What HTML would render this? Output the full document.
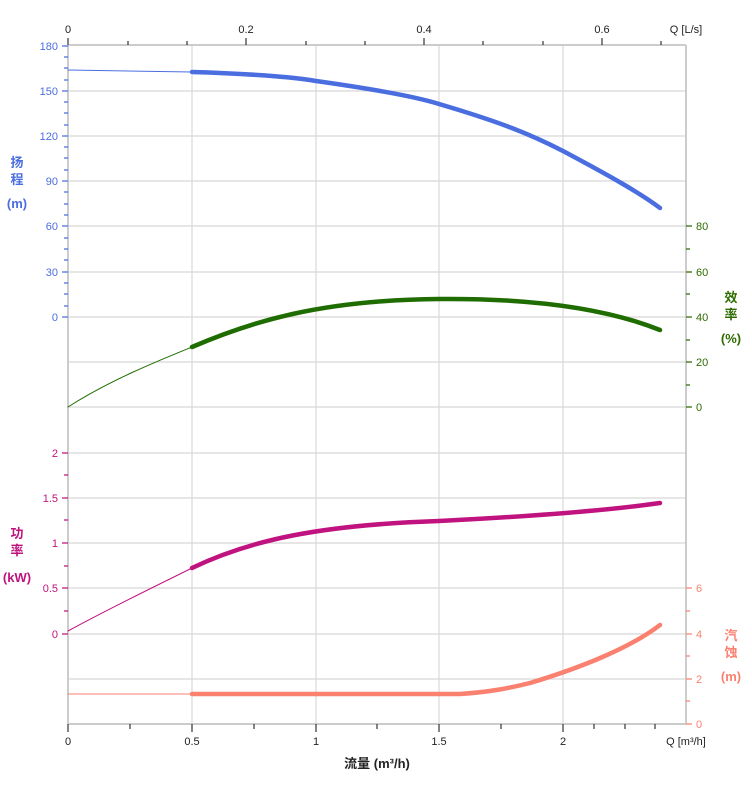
<!DOCTYPE html>
<html><head><meta charset="utf-8"><style>body{margin:0;background:#fff}svg{display:block}text{font-family:"Liberation Sans","Noto Sans CJK SC",sans-serif}</style></head><body>
<svg width="752" height="797" viewBox="0 0 752 797" xmlns="http://www.w3.org/2000/svg">
<g stroke="#d8d8d8" stroke-width="1.2">
<line x1="68" y1="91" x2="686" y2="91"/><line x1="68" y1="136" x2="686" y2="136"/><line x1="68" y1="181" x2="686" y2="181"/><line x1="68" y1="226" x2="686" y2="226"/><line x1="68" y1="272" x2="686" y2="272"/><line x1="68" y1="317" x2="686" y2="317"/><line x1="68" y1="362" x2="686" y2="362"/><line x1="68" y1="407" x2="686" y2="407"/><line x1="68" y1="453" x2="686" y2="453"/><line x1="68" y1="498" x2="686" y2="498"/><line x1="68" y1="543" x2="686" y2="543"/><line x1="68" y1="588" x2="686" y2="588"/><line x1="68" y1="634" x2="686" y2="634"/><line x1="68" y1="679" x2="686" y2="679"/>
<line x1="192" y1="46" x2="192" y2="724"/><line x1="316" y1="46" x2="316" y2="724"/><line x1="439" y1="46" x2="439" y2="724"/><line x1="563" y1="46" x2="563" y2="724"/>
</g>
<g stroke="#ccc" stroke-width="2"><line x1="68" y1="45" x2="686" y2="45"/><line x1="68" y1="724" x2="686" y2="724"/><line x1="686" y1="45" x2="686" y2="724"/><line x1="68" y1="45" x2="68" y2="724"/></g>
<g stroke="#333" stroke-width="1.2">
<line x1="68" y1="724" x2="68" y2="732"/><line x1="130" y1="724" x2="130" y2="729"/><line x1="192" y1="724" x2="192" y2="732"/><line x1="254" y1="724" x2="254" y2="729"/><line x1="316" y1="724" x2="316" y2="732"/><line x1="377" y1="724" x2="377" y2="729"/><line x1="439" y1="724" x2="439" y2="732"/><line x1="501" y1="724" x2="501" y2="729"/><line x1="563" y1="724" x2="563" y2="732"/><line x1="594" y1="724" x2="594" y2="729"/><line x1="625" y1="724" x2="625" y2="729"/><line x1="655" y1="724" x2="655" y2="729"/>
<line x1="68" y1="38" x2="68" y2="45"/><line x1="128" y1="41" x2="128" y2="45"/><line x1="187" y1="41" x2="187" y2="45"/><line x1="246" y1="38" x2="246" y2="45"/><line x1="306" y1="41" x2="306" y2="45"/><line x1="365" y1="41" x2="365" y2="45"/><line x1="424" y1="38" x2="424" y2="45"/><line x1="483" y1="41" x2="483" y2="45"/><line x1="543" y1="41" x2="543" y2="45"/><line x1="602" y1="38" x2="602" y2="45"/><line x1="661" y1="41" x2="661" y2="45"/>
</g>
<g font-size="11" fill="#222" text-anchor="middle">
<text x="68" y="745">0</text><text x="192" y="745">0.5</text><text x="316" y="745">1</text><text x="439" y="745">1.5</text><text x="563" y="745">2</text><text x="686" y="745">Q [m³/h]</text>
<text x="68" y="33">0</text><text x="246" y="33">0.2</text><text x="424" y="33">0.4</text><text x="602" y="33">0.6</text><text x="686" y="33">Q [L/s]</text>
<text x="377" y="768" font-size="13" font-weight="bold">流量 (m³/h)</text>
</g>
<g font-size="11" fill="#4a6ee0" text-anchor="end">
<text x="58" y="50">180</text><text x="58" y="95">150</text><text x="58" y="140">120</text><text x="58" y="185">90</text><text x="58" y="230">60</text><text x="58" y="276">30</text><text x="58" y="321">0</text>
</g>
<g stroke="#4a6ee0" stroke-width="1.2"><path d="M62 46H68M62 91H68M62 136H68M62 181H68M62 226H68M62 272H68M62 317H68M64 57H68M64 68H68M64 80H68M64 102H68M64 113H68M64 125H68M64 147H68M64 158H68M64 170H68M64 192H68M64 204H68M64 215H68M64 238H68M64 249H68M64 260H68M64 283H68M64 294H68M64 306H68"/></g>
<g font-size="11" fill="#c0137f" text-anchor="end">
<text x="58" y="457">2</text><text x="58" y="502">1.5</text><text x="58" y="547">1</text><text x="58" y="592">0.5</text><text x="58" y="638">0</text>
</g>
<g stroke="#c0137f" stroke-width="1.2"><path d="M62 453H68M62 498H68M62 543H68M62 588H68M62 634H68M64 475H68M64 520H68M64 566H68M64 611H68"/></g>
<g font-size="11" fill="#2e6b00" text-anchor="start">
<text x="696" y="230">80</text><text x="696" y="276">60</text><text x="696" y="321">40</text><text x="696" y="366">20</text><text x="696" y="411">0</text>
</g>
<g stroke="#2e6b00" stroke-width="1.2"><path d="M686 226H692M686 272H692M686 317H692M686 362H692M686 407H692M686 249H690M686 294H690M686 340H690M686 385H690"/></g>
<g font-size="11" fill="#fa8070" text-anchor="start">
<text x="696" y="592">6</text><text x="696" y="638">4</text><text x="696" y="683">2</text><text x="696" y="728">0</text>
</g>
<g stroke="#fa8070" stroke-width="1.2"><path d="M686 588H692M686 634H692M686 679H692M686 724H692M686 611H690M686 656H690M686 701H690"/></g>
<g font-size="13" font-weight="bold" text-anchor="middle">
<text x="17" y="167" fill="#4a6ee0">扬</text><text x="17" y="184" fill="#4a6ee0">程</text><text x="17" y="208" fill="#4a6ee0">(m)</text>
<text x="17" y="538" fill="#c0137f">功</text><text x="17" y="555" fill="#c0137f">率</text><text x="17" y="582" fill="#c0137f">(kW)</text>
<text x="731" y="302" fill="#2e6b00">效</text><text x="731" y="319" fill="#2e6b00">率</text><text x="731" y="343" fill="#2e6b00">(%)</text>
<text x="731" y="640" fill="#fa8070">汽</text><text x="731" y="657" fill="#fa8070">蚀</text><text x="731" y="681" fill="#fa8070">(m)</text>
</g>
<g fill="none" stroke-linecap="round">
<path d="M68 70L192 72" stroke="#4a6ee0" stroke-width="1"/>
<path d="M192 72C260 74 300 78 316 81C380 90 420 98 439 104C500 122 530 134 563 151C610 176 640 193 660 208" stroke="#4a6ee0" stroke-width="4.5"/>
<path d="M68 407C110 380 160 360 192 347" stroke="#1f6d00" stroke-width="1"/>
<path d="M192 347C250 322 320 300 439 299C540 298 610 310 660 330" stroke="#1f6d00" stroke-width="4.5"/>
<path d="M68 631C110 608 160 584 192 568" stroke="#c0137f" stroke-width="1"/>
<path d="M192 568C250 540 320 525 439 521C540 516 610 510 660 503" stroke="#c0137f" stroke-width="4.5"/>
<path d="M68 694L192 694" stroke="#fa8070" stroke-width="1"/>
<path d="M192 694L460 694C490 692 510 688 530 683C580 668 630 648 660 625" stroke="#fa8070" stroke-width="4.5"/>
</g>
</svg>
</body></html>
